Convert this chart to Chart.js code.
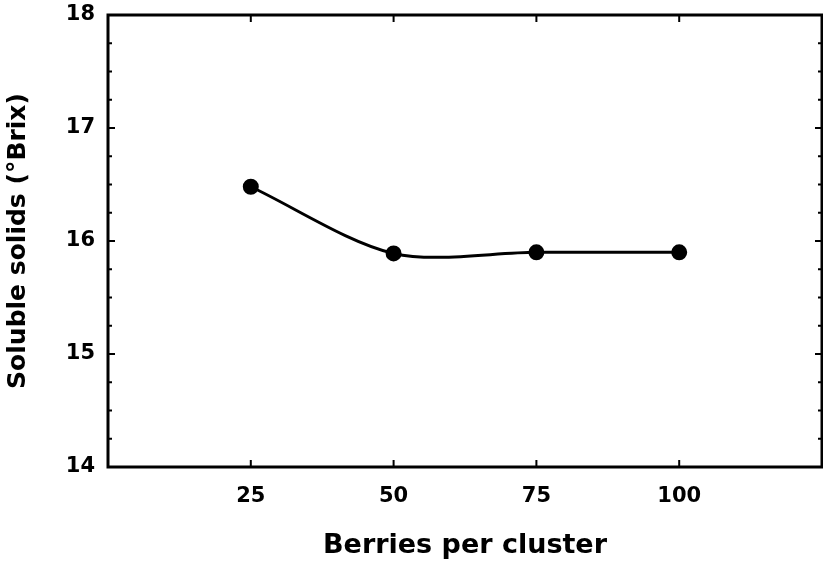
<!DOCTYPE html>
<html>
<head>
<meta charset="utf-8">
<script src="https://cdn.jsdelivr.net/npm/chart.js@4.4.0/dist/chart.umd.min.js"></script>
<style>
  html, body { margin: 0; padding: 0; background: #fff; }
  #wrap { width: 823px; height: 565px; }
</style>
</head>
<body>
<div id="wrap"><canvas id="myChart"></canvas></div>
<script>
// berries per cluster vs soluble solids
const berries = [25, 50, 75, 100];
const brix = [16.48, 15.89, 15.9, 15.9];
const xTicks = [25, 50, 75, 100];
const yTicks = [14, 15, 16, 17, 18];

const fontFam = '"DejaVu Sans", Arial, sans-serif';

// frame + inward ticks, drawn from the scales
const frameTicks = {
    id: 'frameTicks',
    afterDraw(chart) {
        const ctx = chart.ctx;
        const a = chart.chartArea;
        const xs = chart.scales.x, ys = chart.scales.y;
        ctx.save();
        ctx.strokeStyle = '#000';
        ctx.lineWidth = 3;
        ctx.strokeRect(a.left, a.top, a.right - a.left, a.bottom - a.top);
        ctx.lineWidth = 2;
        ctx.beginPath();
        xTicks.forEach(function(v) {
            const px = xs.getPixelForValue(v);
            ctx.moveTo(px, a.bottom); ctx.lineTo(px, a.bottom - 7);
            ctx.moveTo(px, a.top); ctx.lineTo(px, a.top + 7);
        });
        for (let v = 14; v <= 18.001; v += 0.25) {
            const py = ys.getPixelForValue(v);
            const len = Math.abs(v - Math.round(v)) < 0.01 ? 7 : 4;
            ctx.moveTo(a.left, py); ctx.lineTo(a.left + len, py);
            ctx.moveTo(a.right, py); ctx.lineTo(a.right - len, py);
        }
        ctx.stroke();
        ctx.restore();
    }
};

const ctx = document.getElementById('myChart');
var myChart = new Chart(ctx, {
    type: 'line',
    data: {
        datasets: [{
            label: 'Soluble solids',
            data: berries.map(function(b, i) { return {x: b, y: brix[i]}; }),
            borderColor: '#000',
            backgroundColor: '#000',
            borderWidth: 3,
            pointRadius: 6.5,
            pointHoverRadius: 6.5,
            tension: 0.3,
            fill: false
        }]
    },
    options: {
        responsive: true,
        maintainAspectRatio: false,
        animation: false,
        layout: { autoPadding: false, padding: { top: 15, right: 1, left: 0, bottom: 0 } },
        plugins: {
            legend: { display: false },
            tooltip: { enabled: false }
        },
        scales: {
            x: {
                type: 'linear',
                min: 0,
                max: 125,
                afterBuildTicks: function(scale) {
                    scale.ticks = xTicks.map(function(v) { return {value: v}; });
                },
                afterFit: function(scale) {
                    scale.height = 98;
                    scale.paddingLeft = 0;
                    scale.paddingRight = 0;
                },
                grid: { display: false, drawTicks: false },
                border: { display: false },
                ticks: {
                    color: '#000',
                    padding: 17,
                    maxRotation: 0,
                    font: { family: fontFam, size: 21, weight: 'bold' }
                },
                title: {
                    display: true,
                    text: 'Berries per cluster',
                    color: '#000',
                    padding: { top: 0, bottom: 3 },
                    font: { family: fontFam, size: 27, weight: 'bold' }
                }
            },
            y: {
                min: 14,
                max: 18,
                afterBuildTicks: function(scale) {
                    scale.ticks = yTicks.map(function(v) { return {value: v}; });
                },
                afterFit: function(scale) {
                    scale.width = 108;
                    scale.paddingTop = 0;
                    scale.paddingBottom = 0;
                },
                grid: { display: false, drawTicks: false },
                border: { display: false },
                ticks: {
                    color: '#000',
                    padding: 13,
                    font: { family: fontFam, size: 21, weight: 'bold' }
                },
                title: {
                    display: true,
                    text: 'Soluble solids (°Brix)',
                    color: '#000',
                    padding: { top: 3, bottom: 0 },
                    font: { family: fontFam, size: 25, weight: 'bold' }
                }
            }
        }
    },
    plugins: [frameTicks]
});
</script>
</body>
</html>
